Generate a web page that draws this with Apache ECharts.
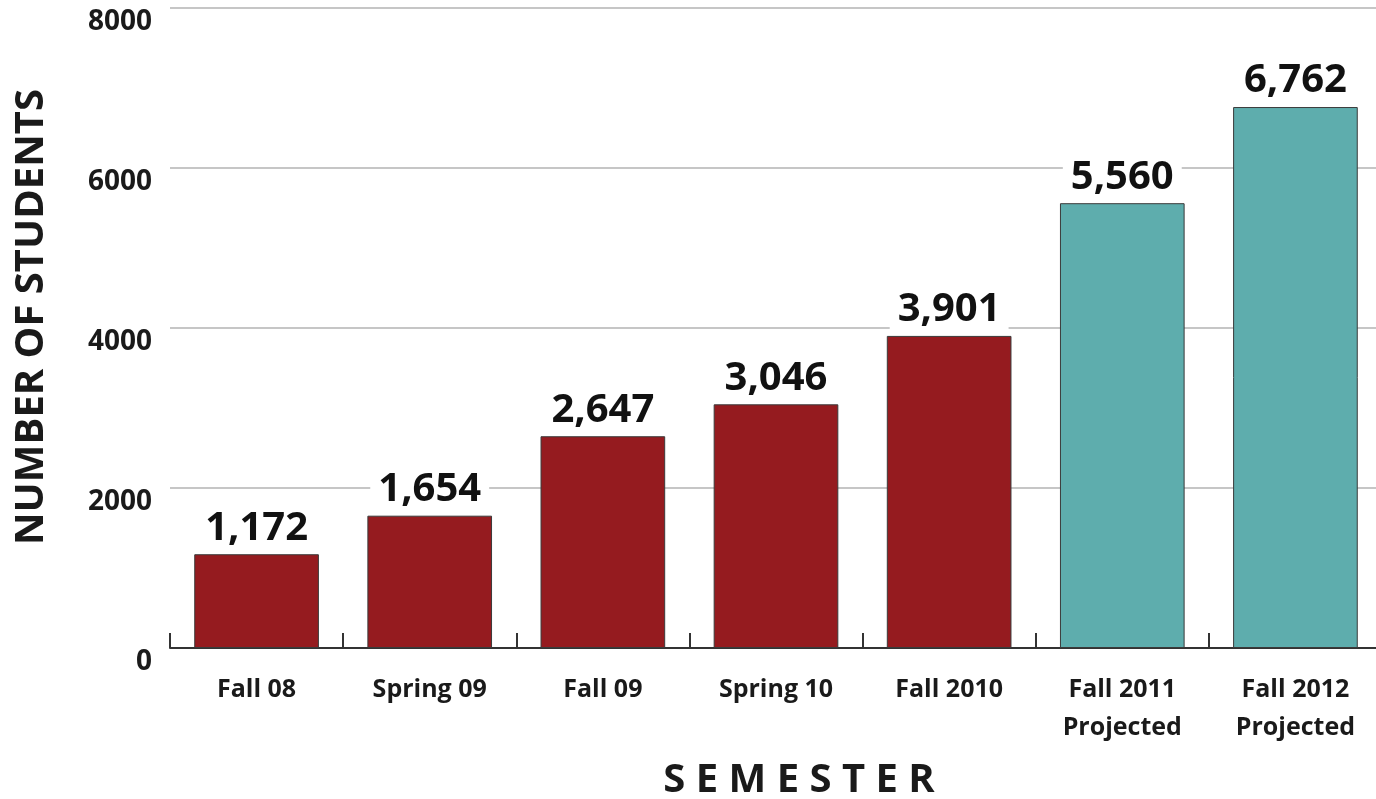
<!DOCTYPE html>
<html>
<head>
<meta charset="utf-8">
<script src="https://cdn.jsdelivr.net/npm/echarts@6/dist/echarts.min.js"></script>
<style>
  html, body { margin: 0; padding: 0; background: #fff; }
  #bar-chart { width: 1376px; height: 799px; }
</style>
</head>
<body>
<div id="bar-chart"></div>
<script>
var semesters = ['Fall 08', 'Spring 09', 'Fall 09', 'Spring 10', 'Fall 2010', 'Fall 2011\nProjected', 'Fall 2012\nProjected'];
var students = [1172, 1654, 2647, 3046, 3901, 5560, 6762];
var projected = [false, false, false, false, false, true, true];
var yTicks = [0, 2000, 4000, 6000, 8000];

var myChart = echarts.init(document.getElementById('bar-chart'));
var font = '"Open Sans", sans-serif';

option = {
    animation: false,
    grid: { left: 170, width: 1212, top: 8, bottom: 151, containLabel: false, outerBoundsMode: 'none' },
    xAxis: [
        {
            type: 'category',
            data: semesters,
            name: 'S E M E S T E R',
            nameLocation: 'middle',
            nameGap: 113,
            nameTextStyle: { fontFamily: font, fontWeight: 'bold', fontSize: 40, color: '#1a1a1a', padding: [0, 0, 0, 46] },
            axisLine: { lineStyle: { color: '#333', width: 2 } },
            axisTick: { show: true, inside: true, length: 15, lineStyle: { color: '#333', width: 2 } },
            axisLabel: { fontFamily: font, fontWeight: 'bold', fontSize: 25, color: '#1a1a1a', margin: 23, lineHeight: 38 }
        }
    ],
    yAxis: [
        {
            type: 'value',
            min: yTicks[0],
            max: yTicks[yTicks.length - 1],
            interval: 2000,
            name: 'NUMBER OF STUDENTS',
            nameLocation: 'middle',
            nameGap: 118,
            nameTextStyle: { fontFamily: font, fontWeight: 'bold', fontSize: 40, color: '#1a1a1a', padding: [0, 0, 0, 22] },
            axisLine: { show: false },
            axisTick: { show: false },
            axisLabel: {
                fontFamily: font, fontWeight: 'bold', fontSize: 28, color: '#1a1a1a', margin: 18,
                verticalAlign: 'top',
                formatter: function (v) { return String(v); }
            },
            splitLine: { lineStyle: { color: '#c6c6c6', width: 2 } }
        }
    ],
    series: [
        {
            name: 'Students',
            type: 'bar',
            barCategoryGap: '28%',
            data: students.map(function (v, i) {
                return {
                    value: v,
                    itemStyle: { color: projected[i] ? '#5eadad' : '#951b1f' }
                };
            }),
            itemStyle: { borderColor: '#3a3a3a', borderWidth: 1 },
            label: {
                show: true,
                position: 'top',
                distance: 6,
                fontFamily: font,
                fontWeight: 'bold',
                fontSize: 40,
                color: '#111',
                backgroundColor: '#fff',
                padding: [0, 8, 0, 8],
                formatter: function (p) { return p.value.toLocaleString('en-US'); }
            }
        }
    ]
};

myChart.setOption(option, true);
window.addEventListener('resize', function () { myChart.resize(); });
</script>
</body>
</html>
